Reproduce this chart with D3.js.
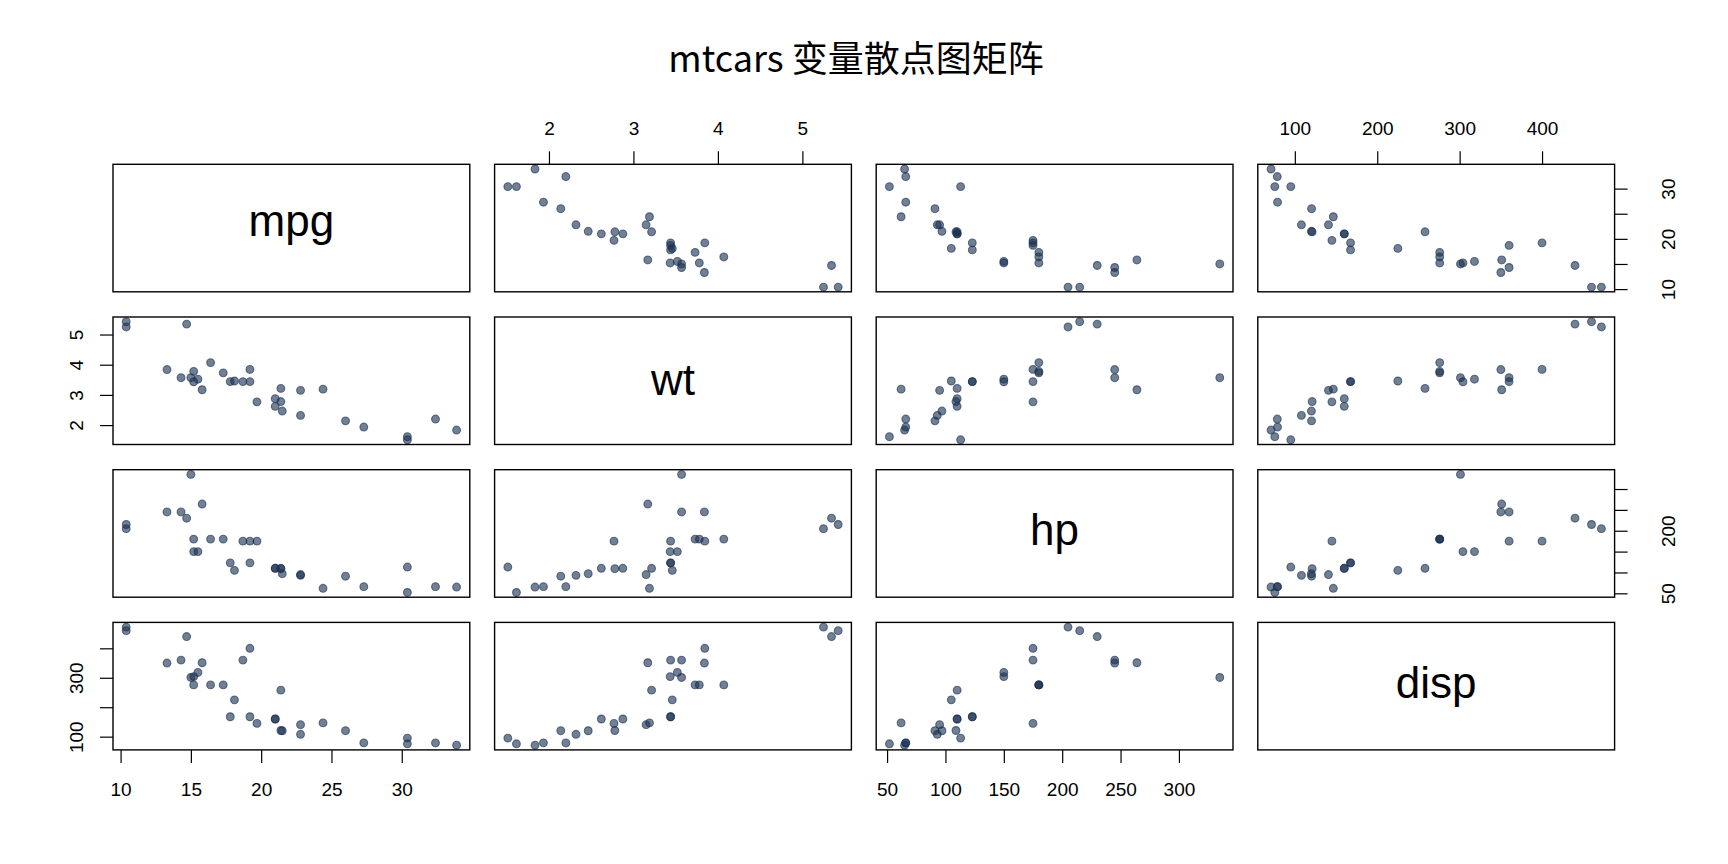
<!DOCTYPE html>
<html>
<head>
<meta charset="utf-8">
<script src="https://d3js.org/d3.v7.min.js"></script>
<style>
body { margin: 0; background: #fff; }
text { font-family: "Liberation Sans", Arial, sans-serif; fill: #000; }
.box { fill: none; stroke: #000; stroke-width: 1.4; }
.tick line { stroke: #000; stroke-width: 1.2; }
</style>
</head>
<body>
<div id="chart"></div>
<script>
// mtcars, 32 cars
const mpg  = [21.0, 21.0, 22.8, 21.4, 18.7, 18.1, 14.3, 24.4, 22.8, 19.2, 17.8, 16.4, 17.3, 15.2, 10.4, 10.4,
              14.7, 32.4, 30.4, 33.9, 21.5, 15.5, 15.2, 13.3, 19.2, 27.3, 26.0, 30.4, 15.8, 19.7, 15.0, 21.4];
const wt   = [2.620, 2.875, 2.320, 3.215, 3.440, 3.460, 3.570, 3.190, 3.150, 3.440, 3.440, 4.070, 3.730, 3.780, 5.250, 5.424,
              5.345, 2.200, 1.615, 1.835, 2.465, 3.520, 3.435, 3.840, 3.845, 1.935, 2.140, 1.513, 3.170, 2.770, 3.570, 2.780];
const hp   = [110, 110, 93, 110, 175, 105, 245, 62, 95, 123, 123, 180, 180, 180, 205, 215,
              230, 66, 52, 65, 97, 150, 150, 245, 175, 66, 91, 113, 264, 175, 335, 109];
const disp = [160, 160, 108, 258, 360, 225, 360, 146.7, 140.8, 167.6, 167.6, 275.8, 275.8, 275.8, 472, 460,
              440, 78.7, 75.7, 71.1, 120.1, 318, 304, 350, 400, 79, 120.3, 95.1, 351, 145, 301, 121];

const varNames = ["mpg", "wt", "hp", "disp"];
const columns = {mpg: mpg, wt: wt, hp: hp, disp: disp};
const tickValues = {mpg: [10, 15, 20, 25, 30], wt: [2, 3, 4, 5], hp: [50, 100, 150, 200, 250, 300], disp: [100, 200, 300, 400]};
// vertical axes only keep some labels (R drops the ones that would overlap)
const yTickLabels = {mpg: [10, 20, 30], wt: [2, 3, 4, 5], hp: [50, 200], disp: [100, 300]};
const title = "mtcars 变量散点图矩阵";

const W = 1728, H = 864;
const originX = 113, originY = 164.3;
const pw = 356.8, ph = 127.5;
const stepX = 381.6, stepY = 152.7;
const n = varNames.length;
const tickLen = 13;

const svg = d3.select("#chart").append("svg")
  .attr("width", W)
  .attr("height", H);

svg.append("text")
  .attr("x", 856)
  .attr("y", 72)
  .attr("text-anchor", "middle")
  .style("font-family", '"Noto Sans CJK SC", "Noto Sans", sans-serif')
  .style("font-size", "36px")
  .text(title);

// scales padded 4% like R
function padded(v) {
  const ext = d3.extent(v);
  const r = ext[1] - ext[0];
  return [ext[0] - 0.04 * r, ext[1] + 0.04 * r];
}
const xScales = {}, yScales = {};
varNames.forEach(function(v) {
  xScales[v] = d3.scaleLinear().domain(padded(columns[v])).range([0, pw]);
  yScales[v] = d3.scaleLinear().domain(padded(columns[v])).range([ph, 0]);
});

// canvas for measuring ink of the diagonal labels
const ctx = document.createElement("canvas").getContext("2d");
const diagFont = 44;
ctx.font = diagFont + 'px "Liberation Sans", Arial, sans-serif';

const pointColor = "rgba(28, 50, 82, 0.62)";

for (let i = 0; i < n; i++) {
  for (let j = 0; j < n; j++) {
    const g = svg.append("g")
      .attr("transform", "translate(" + (originX + j * stepX) + "," + (originY + i * stepY) + ")");
    const xv = varNames[j], yv = varNames[i];

    if (i === j) {
      const m = ctx.measureText(xv);
      const shift = (m.actualBoundingBoxAscent - m.actualBoundingBoxDescent) / 2;
      g.append("text")
        .attr("x", pw / 2)
        .attr("y", ph / 2 + shift)
        .attr("text-anchor", "middle")
        .style("font-size", diagFont + "px")
        .text(xv);
    } else {
      const xs = xScales[xv], ys = yScales[yv];
      g.selectAll("circle")
        .data(d3.range(mpg.length))
        .enter().append("circle")
          .attr("cx", function(k) { return xs(columns[xv][k]); })
          .attr("cy", function(k) { return ys(columns[yv][k]); })
          .attr("r", 3.9)
          .attr("fill", pointColor)
          .attr("stroke", pointColor)
          .attr("stroke-width", 1.1);
    }

    g.append("rect")
      .attr("class", "box")
      .attr("width", pw)
      .attr("height", ph);

    // axes on the outside, alternating like pairs()
    if (i === n - 1 && j % 2 === 0) {
      const ax = g.append("g")
        .attr("transform", "translate(0," + ph + ")")
        .call(d3.axisBottom(xScales[xv]).tickValues(tickValues[xv]).tickSize(tickLen).tickSizeOuter(0)
          .tickFormat(function(d) { return d; }));
      ax.select(".domain").remove();
      ax.selectAll("text").attr("y", 46).attr("dy", null).style("font-size", "19px");
    }
    if (i === 0 && j % 2 === 1) {
      const ax = g.append("g")
        .call(d3.axisTop(xScales[xv]).tickValues(tickValues[xv]).tickSize(tickLen).tickSizeOuter(0)
          .tickFormat(function(d) { return d; }));
      ax.select(".domain").remove();
      ax.selectAll("text").attr("y", -29.3).attr("dy", null).style("font-size", "19px");
    }
    if (j === 0 && i % 2 === 1) {
      const ax = g.append("g")
        .call(d3.axisLeft(yScales[yv]).tickValues(tickValues[yv]).tickSize(tickLen).tickSizeOuter(0)
          .tickFormat(function(d) { return yTickLabels[yv].indexOf(d) >= 0 ? d : ""; }));
      ax.select(".domain").remove();
      ax.selectAll("text")
        .attr("x", null).attr("dy", null)
        .attr("text-anchor", "middle")
        .attr("transform", "translate(-29.7,0) rotate(-90)")
        .style("font-size", "19px");
    }
    if (j === n - 1 && i % 2 === 0) {
      const ax = g.append("g")
        .attr("transform", "translate(" + pw + ",0)")
        .call(d3.axisRight(yScales[yv]).tickValues(tickValues[yv]).tickSize(tickLen).tickSizeOuter(0)
          .tickFormat(function(d) { return yTickLabels[yv].indexOf(d) >= 0 ? d : ""; }));
      ax.select(".domain").remove();
      ax.selectAll("text")
        .attr("x", null).attr("dy", null)
        .attr("text-anchor", "middle")
        .attr("transform", "translate(60.5,0) rotate(-90)")
        .style("font-size", "19px");
    }
  }
}
</script>
</body>
</html>
